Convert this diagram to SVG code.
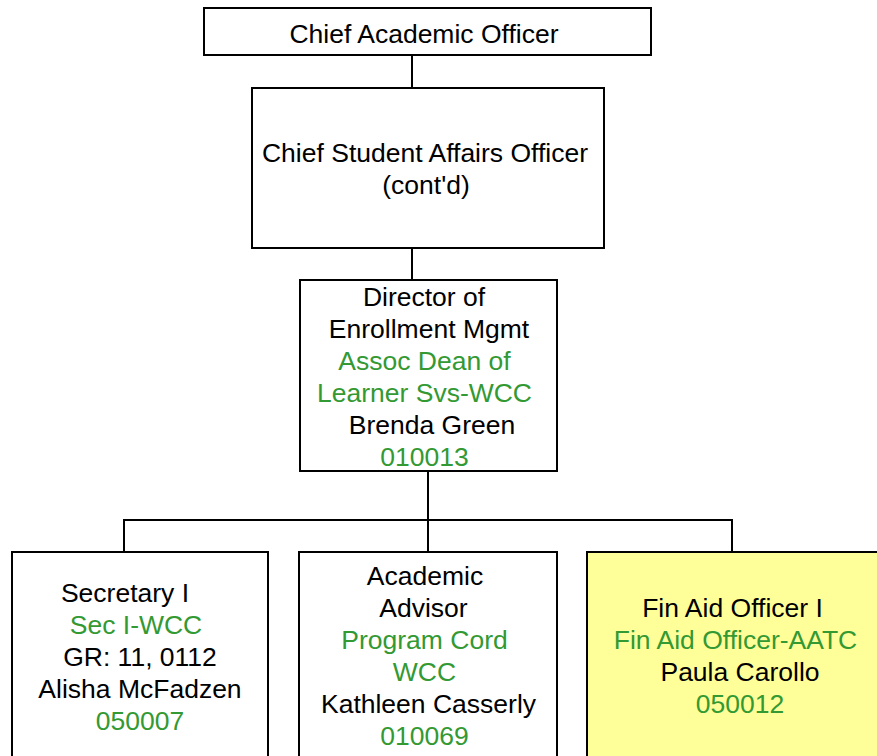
<svg xmlns="http://www.w3.org/2000/svg" width="877" height="756" viewBox="0 0 877 756">
<style>
.box{fill:#fff;stroke:#000;stroke-width:2}
.hl{fill:#ffff99}
.t{font-family:"Liberation Sans",Arial,sans-serif;font-size:26.5px;fill:#000;text-anchor:middle}
.g{fill:#339933}
.c{stroke:#000;stroke-width:2;fill:none}
</style>
<g id="connectors">
<line class="c" x1="412" y1="55" x2="412" y2="88"/>
<line class="c" x1="412" y1="248" x2="412" y2="280"/>
<line class="c" x1="428" y1="471" x2="428" y2="552"/>
<polyline class="c" points="124,552 124,520 732,520 732,552"/>
</g>
<g id="cao">
<rect class="box" x="204" y="8" width="447" height="47"/>
<text class="t" x="424" y="43">Chief Academic Officer</text>
</g>
<g id="csao">
<rect class="box" x="252" y="88" width="352" height="160"/>
<text class="t" x="425" y="162">Chief Student Affairs Officer</text>
<text class="t" x="426" y="194">(cont'd)</text>
</g>
<g id="director">
<rect class="box" x="300" y="280" width="257" height="191"/>
<text class="t" x="424" y="306">Director of</text>
<text class="t" x="429" y="338">Enrollment Mgmt</text>
<text class="t g" x="424.5" y="370">Assoc Dean of</text>
<text class="t g" x="424.5" y="402">Learner Svs-WCC</text>
<text class="t" x="432" y="434">Brenda Green</text>
<text class="t g" x="424.5" y="466">010013</text>
</g>
<g id="secretary">
<rect class="box" x="12" y="552" width="256" height="220"/>
<text class="t" x="125" y="602">Secretary I</text>
<text class="t g" x="136" y="634">Sec I-WCC</text>
<text class="t" x="140" y="666">GR: 11, 0112</text>
<text class="t" x="140" y="698">Alisha McFadzen</text>
<text class="t g" x="140" y="730">050007</text>
</g>
<g id="advisor">
<rect class="box" x="299" y="552" width="258" height="220"/>
<text class="t" x="425" y="585">Academic</text>
<text class="t" x="423.5" y="617">Advisor</text>
<text class="t g" x="424.5" y="649">Program Cord</text>
<text class="t g" x="424.5" y="681">WCC</text>
<text class="t" x="428.5" y="713">Kathleen Casserly</text>
<text class="t g" x="424.5" y="745">010069</text>
</g>
<g id="finaid">
<rect class="box hl" x="587" y="552" width="300" height="220"/>
<text class="t" x="732.5" y="617">Fin Aid Officer I</text>
<text class="t g" x="735.5" y="649">Fin Aid Officer-AATC</text>
<text class="t" x="740" y="681">Paula Carollo</text>
<text class="t g" x="740" y="713">050012</text>
</g>
</svg>
